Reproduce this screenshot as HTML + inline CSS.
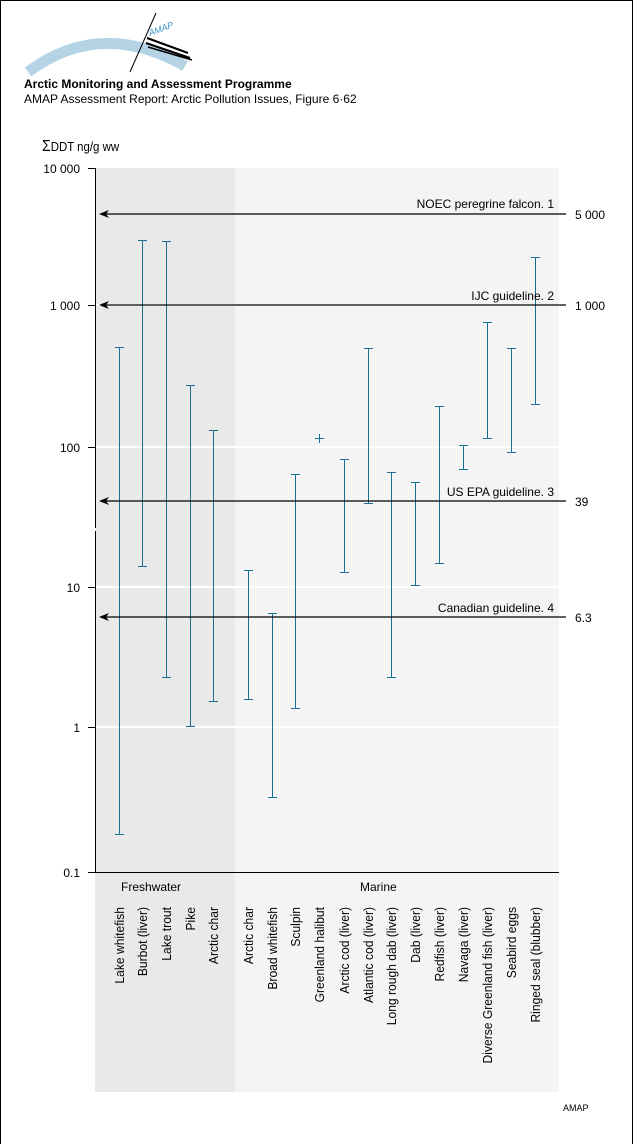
<!DOCTYPE html>
<html><head><meta charset="utf-8"><style>
html,body{margin:0;padding:0;background:#fff}
svg{display:block}
text{font-family:"Liberation Sans",Arial,sans-serif;fill:#000}
</style></head><body>
<svg width="634" height="1144" viewBox="0 0 634 1144" xmlns="http://www.w3.org/2000/svg">
<rect x="0.5" y="0.5" width="632" height="1150" fill="#fff" stroke="#000" stroke-width="1"/>
<!-- logo -->
<path d="M28,72 Q100,18 185,66" fill="none" stroke="#b4d4e6" stroke-width="11"/>
<line x1="130" y1="72" x2="156" y2="13" stroke="#000" stroke-width="1"/>
<text x="150" y="36" font-size="9" font-style="italic" style="fill:#3a8fc0" transform="rotate(-20 150 36)">AMAP</text>
<line x1="147" y1="38" x2="188" y2="53" stroke="#000" stroke-width="2"/>
<line x1="146" y1="43" x2="190" y2="58" stroke="#000" stroke-width="2"/>
<line x1="148" y1="47" x2="192" y2="60" stroke="#000" stroke-width="1.5"/>
<text x="24" y="88" font-size="12" font-weight="bold">Arctic Monitoring and Assessment Programme</text>
<text x="24" y="103" font-size="12">AMAP Assessment Report: Arctic Pollution Issues, Figure 6·62</text>
<text x="42" y="151" font-size="13" transform="translate(42 151) scale(0.88 1) translate(-42 -151)"><tspan font-size="16">Σ</tspan>DDT ng/g ww</text>
<!-- backgrounds -->
<rect x="95" y="168" width="140" height="924" fill="#e9e9e9"/>
<rect x="235" y="168" width="324" height="924" fill="#f4f4f4"/>
<!-- gridlines -->
<g stroke="#fff" stroke-width="2">
<line x1="95" y1="305" x2="559" y2="305"/>
<line x1="95" y1="447" x2="559" y2="447"/>
<line x1="95" y1="587" x2="559" y2="587"/>
<line x1="95" y1="727" x2="559" y2="727"/>
</g>
<!-- axes -->
<line x1="95.5" y1="168" x2="95.5" y2="528" stroke="#000"/>
<line x1="95.5" y1="531" x2="95.5" y2="872" stroke="#000"/>
<line x1="95" y1="872.5" x2="559" y2="872.5" stroke="#000"/>
<g stroke="#000">
<line x1="88" y1="168.5" x2="95" y2="168.5"/>
<line x1="88" y1="305.5" x2="95" y2="305.5"/>
<line x1="88" y1="447.5" x2="95" y2="447.5"/>
<line x1="88" y1="587.5" x2="95" y2="587.5"/>
<line x1="88" y1="727.5" x2="95" y2="727.5"/>
<line x1="88" y1="872.5" x2="95" y2="872.5"/>
</g>
<g font-size="12" text-anchor="end">
<text x="80" y="173">10 000</text>
<text x="80" y="310">1 000</text>
<text x="80" y="452">100</text>
<text x="80" y="592">10</text>
<text x="80" y="732">1</text>
<text x="80" y="877">0.1</text>
</g>
<!-- bars -->
<g stroke="#1a6f8e" stroke-width="1" fill="none" shape-rendering="crispEdges">
<path d="M119.5 347V834M115 347.5h9M115 834.5h9"/>
<path d="M142.5 240V566M138 240.5h9M138 566.5h9"/>
<path d="M166.5 241V677M162 241.5h9M162 677.5h9"/>
<path d="M190.5 385V726M186 385.5h9M186 726.5h9"/>
<path d="M213.5 430V701M209 430.5h9M209 701.5h9"/>
<path d="M248.5 570V699M244 570.5h9M244 699.5h9"/>
<path d="M272.5 613V797M268 613.5h9M268 797.5h9"/>
<path d="M295.5 474V708M291 474.5h9M291 708.5h9"/>
<path d="M319.5 434V443M315 438.5h9"/>
<path d="M344.5 459V572M340 459.5h9M340 572.5h9"/>
<path d="M368.5 348V503M364 348.5h9M364 503.5h9"/>
<path d="M391.5 472V677M387 472.5h9M387 677.5h9"/>
<path d="M415.5 482V585M411 482.5h9M411 585.5h9"/>
<path d="M439.5 406V563M435 406.5h9M435 563.5h9"/>
<path d="M463.5 445V469M459 445.5h9M459 469.5h9"/>
<path d="M487.5 322V438M483 322.5h9M483 438.5h9"/>
<path d="M511.5 348V452M507 348.5h9M507 452.5h9"/>
<path d="M535.5 257V404M531 257.5h9M531 404.5h9"/>
</g>
<!-- reference lines -->
<g stroke="#000" stroke-width="1.2">
<line x1="102" y1="214" x2="566" y2="214"/>
<line x1="102" y1="305" x2="566" y2="305"/>
<line x1="102" y1="501" x2="566" y2="501"/>
<line x1="102" y1="617" x2="566" y2="617"/>
</g>
<g fill="#000">
<path d="M99 214l10-4-3 4 3 4z"/>
<path d="M99 305l10-4-3 4 3 4z"/>
<path d="M99 501l10-4-3 4 3 4z"/>
<path d="M99 617l10-4-3 4 3 4z"/>
</g>
<g font-size="12" text-anchor="end">
<text x="554" y="208">NOEC peregrine falcon. 1</text>
<text x="554" y="300">IJC guideline. 2</text>
<text x="554" y="496">US EPA guideline. 3</text>
<text x="554" y="612">Canadian guideline. 4</text>
</g>
<g font-size="12">
<text x="575" y="219">5 000</text>
<text x="575" y="310">1 000</text>
<text x="575" y="506">39</text>
<text x="575" y="622">6.3</text>
</g>
<text x="121" y="891" font-size="12">Freshwater</text>
<text x="360" y="891" font-size="12">Marine</text>
<g font-size="13" text-anchor="end">
<text transform="translate(124 907) rotate(-90) scale(0.93 1)">Lake whitefish</text>
<text transform="translate(147 907) rotate(-90) scale(0.93 1)">Burbot (liver)</text>
<text transform="translate(171 907) rotate(-90) scale(0.93 1)">Lake trout</text>
<text transform="translate(195 907) rotate(-90) scale(0.93 1)">Pike</text>
<text transform="translate(218 907) rotate(-90) scale(0.93 1)">Arctic char</text>
<text transform="translate(253 907) rotate(-90) scale(0.93 1)">Arctic char</text>
<text transform="translate(277 907) rotate(-90) scale(0.93 1)">Broad whitefish</text>
<text transform="translate(300 907) rotate(-90) scale(0.93 1)">Sculpin</text>
<text transform="translate(324 907) rotate(-90) scale(0.93 1)">Greenland halibut</text>
<text transform="translate(349 907) rotate(-90) scale(0.93 1)">Arctic cod (liver)</text>
<text transform="translate(373 907) rotate(-90) scale(0.93 1)">Atlantic cod (liver)</text>
<text transform="translate(396 907) rotate(-90) scale(0.93 1)">Long rough dab (liver)</text>
<text transform="translate(420 907) rotate(-90) scale(0.93 1)">Dab (liver)</text>
<text transform="translate(444 907) rotate(-90) scale(0.93 1)">Redfish (liver)</text>
<text transform="translate(468 907) rotate(-90) scale(0.93 1)">Navaga (liver)</text>
<text transform="translate(492 907) rotate(-90) scale(0.93 1)">Diverse Greenland fish (liver)</text>
<text transform="translate(516 907) rotate(-90) scale(0.93 1)">Seabird eggs</text>
<text transform="translate(540 907) rotate(-90) scale(0.93 1)">Ringed seal (blubber)</text>
</g>
<text x="563" y="1111" font-size="9">AMAP</text>
</svg>
</body></html>
